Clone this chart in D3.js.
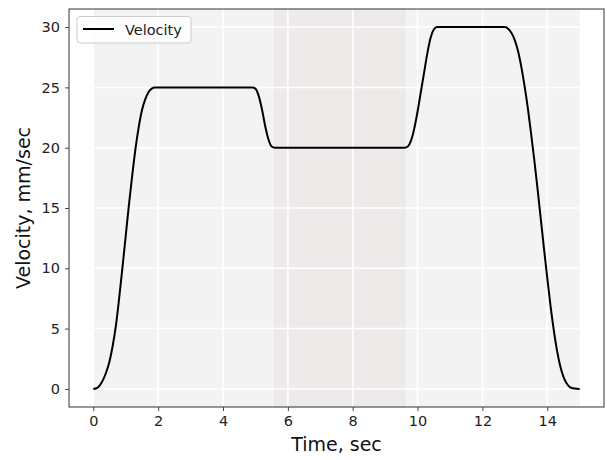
<!DOCTYPE html>
<html>
<head>
<meta charset="utf-8">
<script src="https://cdn.jsdelivr.net/npm/d3@7"></script>
<style>
  body { margin: 0; background: #fff; }
  svg text { font-family: "DejaVu Sans", sans-serif; }
</style>
</head>
<body>
<div id="chart"></div>
<script>
// velocity profile
const times = [
    0, 0.1, 0.2, 0.3, 0.4, 0.5, 0.6, 0.7, 0.8, 0.9, 1.0, 1.1, 1.2, 1.3, 1.4, 1.5, 1.6, 1.7, 1.8, 1.9,
    4.9, 5.0, 5.1, 5.2, 5.3, 5.4, 5.5, 5.6,
    9.6, 9.7, 9.8, 9.9, 10.0, 10.1, 10.2, 10.3, 10.4, 10.5, 10.6,
    12.7, 12.8, 12.9, 13.0, 13.1, 13.2, 13.3, 13.4, 13.5, 13.6, 13.7, 13.8, 13.9, 14.0,
    14.1, 14.2, 14.3, 14.4, 14.5, 14.6, 14.7, 14.8, 14.9, 15.0
]
const velocity = [
    0, 0.05, 0.3, 0.75, 1.4, 2.3, 3.6, 5.3, 7.6, 10.1, 12.7, 15.3, 17.7, 19.9, 21.7, 23.1, 24.0, 24.6, 24.9, 25,
    25, 24.9, 24.3, 23.2, 21.8, 20.7, 20.1, 20,
    20, 20.1, 20.6, 21.6, 23.0, 24.6, 26.2, 27.8, 29.1, 29.8, 30,
    30, 29.85, 29.5, 28.9, 28.0, 26.7, 25.1, 23.3, 21.2, 19.0, 16.6, 14.1, 11.6, 9.2,
    6.9, 4.9, 3.2, 1.9, 1.0, 0.45, 0.15, 0.05, 0.01, 0
]
const xTicks = [0, 2, 4, 6, 8, 10, 12, 14]
const yTicks = [0, 5, 10, 15, 20, 25, 30]
const bgSpan = [0, 15]
const shadeSpan = [5.6, 9.6]

const w = 607;
const h = 460;
const margin = { left: 69, right: 3, top: 9, bottom: 53 };

const svg = d3.select('#chart').append('svg').attr('width', w).attr('height', h)

const x = d3.scaleLinear().domain([-0.75, 15.75]).range([margin.left, w - margin.right])
const y = d3.scaleLinear().domain([-1.5, 31.5]).range([h - margin.bottom, margin.top])

// background spans
svg.append('rect')
    .attr('x', x(bgSpan[0]))
    .attr('y', y(31.5))
    .attr('width', x(bgSpan[1]) - x(bgSpan[0]))
    .attr('height', y(-1.5) - y(31.5))
    .attr('fill', '#f3f3f3')
svg.append('rect')
    .attr('x', x(shadeSpan[0]))
    .attr('y', y(31.5))
    .attr('width', x(shadeSpan[1]) - x(shadeSpan[0]))
    .attr('height', y(-1.5) - y(31.5))
    .attr('fill', '#eeeae9')
    .attr('stroke', '#e9e5e4')
    .attr('stroke-width', 1)

// grid
svg.append('g')
    .selectAll('line')
    .data(xTicks)
    .enter()
    .append('line')
    .attr('x1', d => x(d))
    .attr('x2', d => x(d))
    .attr('y1', y(31.5))
    .attr('y2', y(-1.5))
    .attr('stroke', '#fff')
    .attr('stroke-width', 1.5)
svg.append('g')
    .selectAll('line')
    .data(yTicks)
    .enter()
    .append('line')
    .attr('x1', x(-0.75))
    .attr('x2', x(15.75))
    .attr('y1', d => y(d))
    .attr('y2', d => y(d))
    .attr('stroke', '#fff')
    .attr('stroke-width', 1.5)

// velocity line
const line = d3.line()
    .x((d, i) => x(times[i]))
    .y(d => y(d))
    .curve(d3.curveMonotoneX)
svg.append('path')
    .datum(velocity)
    .attr('d', line)
    .attr('fill', 'none')
    .attr('stroke', '#000')
    .attr('stroke-width', 2)

// axes
const xAxis = svg.append('g')
    .attr('transform', `translate(0,${h - margin.bottom})`)
    .call(d3.axisBottom(x).tickValues(xTicks).tickSize(4).tickPadding(5))
const yAxis = svg.append('g')
    .attr('transform', `translate(${margin.left},0)`)
    .call(d3.axisLeft(y).tickValues(yTicks).tickSize(4).tickPadding(5))
;[xAxis, yAxis].forEach(a => {
    a.select('.domain').remove()
    a.selectAll('line').attr('stroke', '#444')
    a.selectAll('text').attr('font-size', '14.5px').attr('fill', '#222')
        .style('font-family', '"DejaVu Sans", sans-serif')
})

// frame
svg.append('rect')
    .attr('x', margin.left)
    .attr('y', margin.top)
    .attr('width', w - margin.left - margin.right)
    .attr('height', h - margin.top - margin.bottom)
    .attr('fill', 'none')
    .attr('stroke', '#333')
    .attr('stroke-width', 1)

// axis labels
svg.append('text')
    .attr('x', (margin.left + w - margin.right) / 2)
    .attr('y', 451)
    .attr('text-anchor', 'middle')
    .attr('font-size', '19px')
    .attr('fill', '#111')
    .text('Time, sec')
svg.append('text')
    .attr('transform', `translate(30,${(margin.top + h - margin.bottom) / 2}) rotate(-90)`)
    .attr('text-anchor', 'middle')
    .attr('font-size', '19px')
    .attr('fill', '#111')
    .text('Velocity, mm/sec')

// legend
const lg = svg.append('g')
lg.append('rect')
    .attr('x', 77)
    .attr('y', 16.5)
    .attr('width', 114)
    .attr('height', 26.5)
    .attr('rx', 3)
    .attr('fill', 'rgba(255,255,255,0.8)')
    .attr('stroke', '#ccc')
lg.append('line')
    .attr('x1', 83)
    .attr('x2', 114)
    .attr('y1', 29)
    .attr('y2', 29)
    .attr('stroke', '#000')
    .attr('stroke-width', 2)
lg.append('text')
    .attr('x', 125)
    .attr('y', 34.5)
    .attr('font-size', '14.5px')
    .attr('fill', '#222')
    .text('Velocity')
</script>
</body>
</html>
